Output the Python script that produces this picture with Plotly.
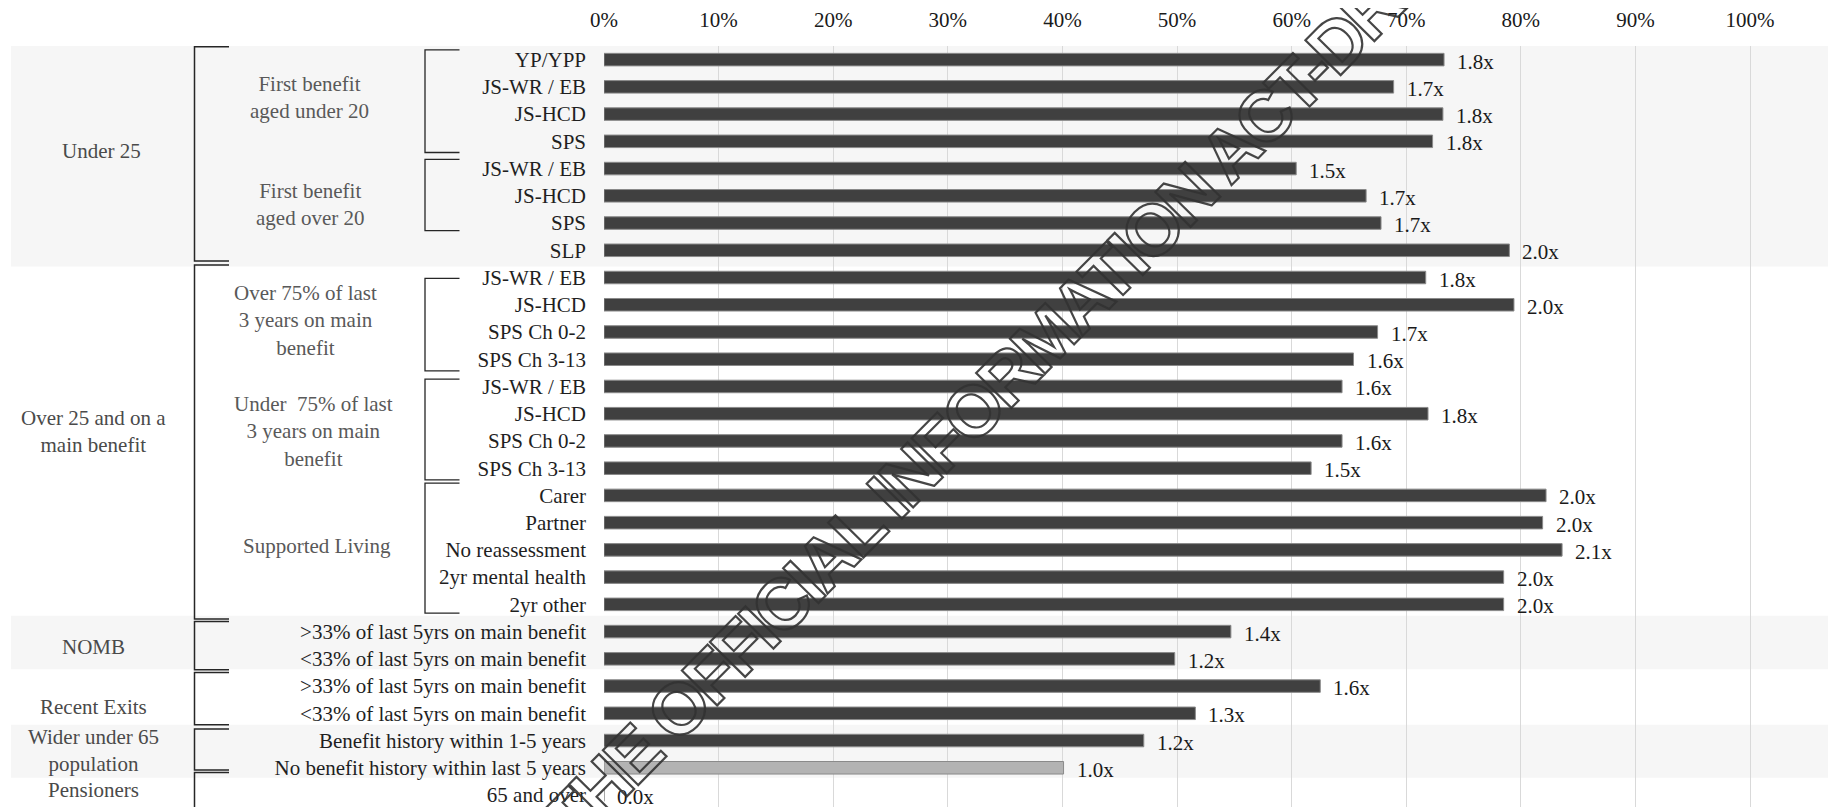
import plotly.graph_objects as go

# ---------------- data ----------------
categories = [
    "YP/YPP", "JS-WR / EB", "JS-HCD", "SPS",
    "JS-WR / EB", "JS-HCD", "SPS", "SLP",
    "JS-WR / EB", "JS-HCD", "SPS Ch 0-2", "SPS Ch 3-13",
    "JS-WR / EB", "JS-HCD", "SPS Ch 0-2", "SPS Ch 3-13",
    "Carer", "Partner", "No reassessment", "2yr mental health", "2yr other",
    ">33% of last 5yrs on main benefit", "<33% of last 5yrs on main benefit",
    ">33% of last 5yrs on main benefit", "<33% of last 5yrs on main benefit",
    "Benefit history within 1-5 years", "No benefit history within last 5 years",
    "65 and over",
]
rates = [73.3, 68.9, 73.2, 72.3, 60.4, 66.5, 67.8, 79.0,
         71.7, 79.4, 67.5, 65.4, 64.4, 71.9, 64.4, 61.7,
         82.2, 81.9, 83.6, 78.5, 78.5,
         54.7, 49.8, 62.5, 51.6, 47.1, 40.1, 0.0]
ratios = [1.8, 1.7, 1.8, 1.8, 1.5, 1.7, 1.7, 2.0,
          1.8, 2.0, 1.7, 1.6, 1.6, 1.8, 1.6, 1.5,
          2.0, 2.0, 2.1, 2.0, 2.0,
          1.4, 1.2, 1.6, 1.3, 1.2, 1.0, 0.0]
baseline_category = "No benefit history within last 5 years"

x_tick_values = [0, 10, 20, 30, 40, 50, 60, 70, 80, 90, 100]
x_tick_labels = ["0%", "10%", "20%", "30%", "40%", "50%", "60%", "70%", "80%", "90%", "100%"]

group_labels = ["Under 25", "Over 25 and on a<br>main benefit", "NOMB",
                "Recent Exits", "Wider under 65<br>population", "Pensioners"]
subgroup_labels = ["First benefit<br>aged under 20", "First benefit<br>aged over 20",
                   "Over 75% of last<br>3 years on main<br>benefit",
                   "Under  75% of last<br>3 years on main<br>benefit",
                   "Supported Living"]

watermark_text = "RELEASED UNDER THE OFFICIAL INFORMATION ACT-DRAFT"

# ---------------- layout constants (row units / screen pixels) ----------------
PAGE_PAD = 8                 # default body margin of the html page
W, H = 1836 - PAGE_PAD, 807 - PAGE_PAD
L, T = 604 - PAGE_PAD, 46 - PAGE_PAD
FONT = "Liberation Serif"
n = len(categories)
rows = list(range(n))
y_range = [27.44, -0.5]

band_spans = [(-0.5, 7.6), (20.42, 22.38), (24.42, 26.37)]
outer_spans = [(-0.47, 7.39), (7.54, 20.54), (20.63, 22.40), (22.50, 24.42),
               (24.58, 26.08), (26.17, 27.7)]
inner_spans = [(-0.36, 3.41), (3.66, 6.28), (8.03, 11.43), (11.73, 15.43), (15.55, 20.32)]
level1_y = [3.34, 13.66, 21.55, 23.75, 25.37, 26.81]
level1_x = [101, 93, 93, 93, 93, 93]
level2_y = [1.39, 5.33, 9.59, 13.66, 17.85]
level2_x = [309.5, 309.5, 305.5, 313.4, 317]


def px(p):
    """screen pixel x -> paper x"""
    return (p - PAGE_PAD - L) / (W - L)


def py(p):
    """screen pixel y -> paper y"""
    return (H - (p - PAGE_PAD)) / (H - T)


bar_colors = ["#b3b3b3" if (c == baseline_category and r == 1.0) else "#404040"
              for c, r in zip(categories, ratios)]

fig = go.Figure()
fig.add_trace(go.Bar(
    x=rates, y=rows, orientation="h", width=0.46,
    marker=dict(color=bar_colors, line=dict(color="#8a8a8a", width=1)),
    hoverinfo="skip", showlegend=False,
))

shapes = []
annotations = []

for y0, y1 in band_spans:
    shapes.append(dict(type="rect", xref="paper", yref="y",
                       x0=px(11), x1=1, y0=y0, y1=y1,
                       fillcolor="#f6f6f6", line=dict(width=0), layer="below"))


def bracket(xa, xb, top, bot, width):
    return dict(type="path", xref="paper", yref="y",
                path=f"M {px(xb)},{top} L {px(xa)},{top} L {px(xa)},{bot} L {px(xb)},{bot}",
                line=dict(color="#262626", width=width), layer="above")


for gi, (top, bot) in enumerate(outer_spans):
    shapes.append(bracket(194.5, 229, top, bot, 1.5))
    annotations.append(dict(text=group_labels[gi], xref="paper", yref="y",
                            x=px(level1_x[gi]), y=level1_y[gi], showarrow=False,
                            xanchor="center", yanchor="middle",
                            font=dict(family=FONT, size=21, color="#4a4a4a")))

for si, (top, bot) in enumerate(inner_spans):
    shapes.append(bracket(425, 459.5, top, bot, 1.3))
    annotations.append(dict(text=subgroup_labels[si], xref="paper", yref="y",
                            x=px(level2_x[si]), y=level2_y[si], showarrow=False,
                            xanchor="center", yanchor="middle",
                            font=dict(family=FONT, size=21, color="#595959")))

# value labels
for r, v, k in zip(rows, rates, ratios):
    annotations.append(dict(text=f"{k:.1f}x", x=v, y=r, xref="x", yref="y",
                            xanchor="left", yanchor="middle", xshift=11, yshift=-2,
                            showarrow=False,
                            font=dict(family=FONT, size=21, color="#1a1a1a")))

# watermark
annotations.append(dict(text=watermark_text, xref="paper", yref="paper",
                        x=px(795), y=py(591), xanchor="center", yanchor="middle",
                        textangle=-45.3, showarrow=False,
                        font=dict(family="Liberation Sans", size=72, weight="bold",
                                  color="rgba(60,60,60,0.9)")))

fig.update_layout(
    width=W, height=H,
    margin=dict(l=L, r=0, t=T, b=0, pad=0, autoexpand=False),
    paper_bgcolor="white", plot_bgcolor="rgba(0,0,0,0)",
    bargap=0.5,
    shapes=shapes, annotations=annotations,
    font=dict(family=FONT, size=21, color="#1a1a1a"),
    xaxis=dict(side="top", range=[0, 107.5], tickvals=x_tick_values, ticktext=x_tick_labels,
               showgrid=True, gridcolor="#d9d9d9", gridwidth=1, zeroline=False,
               showline=False, ticks="", ticklabelstandoff=14, automargin=False,
               tickfont=dict(family=FONT, size=21, color="#1a1a1a"), fixedrange=True),
    yaxis=dict(range=y_range, tickvals=rows, ticktext=categories, showgrid=False,
               zeroline=False, showline=False, ticks="", ticklabelstandoff=17,
               automargin=False, ticklabeloverflow="allow",
               tickfont=dict(family=FONT, size=21, color="#1f1f1f"), fixedrange=True),
)

post = """
document.querySelectorAll('text.annotation-text').forEach(function(t){
  if (t.textContent.indexOf('OFFICIAL') >= 0) {
    t.style.fill = 'none';
    t.style.stroke = 'rgba(50,50,50,0.9)';
    t.style.strokeWidth = '2.2px';
    t.style.letterSpacing = '-4px';
  }
});
"""

fig.write_html("out.html", post_script=post, config={"displayModeBar": False})
